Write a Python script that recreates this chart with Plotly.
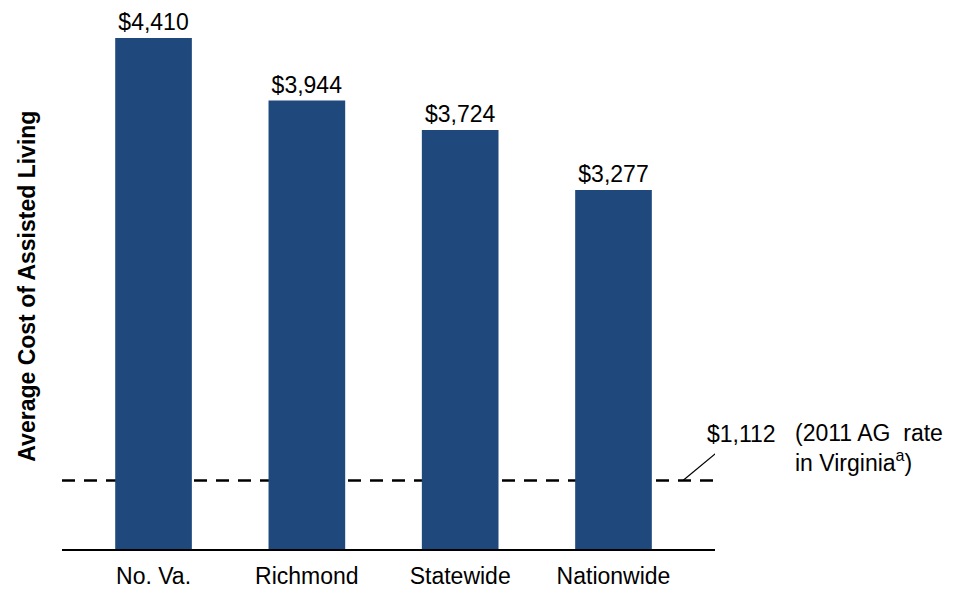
import plotly.graph_objects as go

# ---- data ----
categories = ["No. Va.", "Richmond", "Statewide", "Nationwide"]
avg_cost = [4410, 3944, 3724, 3277]
ag_rate = 1112
ag_label_value = "$1,112"
ag_label_text = "(2011 AG  rate<br>in Virginia<sup>a</sup>)"
y_title = "Average Cost of Assisted Living"

FONT = "Liberation Sans, Arial, sans-serif"
BAR_COLOR = "#1F497D"

fig = go.Figure()
fig.add_trace(go.Bar(
    x=list(range(len(categories))),
    y=avg_cost,
    width=0.5,
    marker=dict(color=BAR_COLOR, line=dict(width=0)),
    text=[f"${v:,}" for v in avg_cost],
    textposition="outside",
    textfont=dict(family=FONT, size=23, color="black"),
    cliponaxis=False,
    hoverinfo="skip",
))

# dashed AG-rate reference line
fig.add_shape(type="line", xref="paper", x0=0, x1=1, yref="y", y0=ag_rate, y1=ag_rate,
              line=dict(color="black", width=2.5, dash="13px,9px"), layer="below")

# leader line from the dashed line up to the label (pixel-sized, anchored on the line)
fig.add_shape(type="line", xref="x", yref="y", xsizemode="pixel", ysizemode="pixel",
              xanchor=3.453, yanchor=ag_rate, x0=0, x1=35, y0=0, y1=29,
              line=dict(color="black", width=1.2))

fig.add_annotation(x=0.9847, y=ag_rate, xref="paper", yref="y", text=ag_label_value,
                   showarrow=False, xanchor="left", yanchor="middle", yshift=47,
                   font=dict(family=FONT, size=23, color="black"))
fig.add_annotation(x=1.1194, y=ag_rate, xref="paper", yref="y", text=ag_label_text,
                   showarrow=False, xanchor="left", yanchor="middle", yshift=33,
                   align="left",
                   font=dict(family=FONT, size=23, color="black"))

# y-axis title
fig.add_annotation(x=-0.055, y=0.478, xref="paper", yref="paper", text=f"<b>{y_title}</b>",
                   textangle=-90, showarrow=False, xanchor="center", yanchor="middle",
                   font=dict(family=FONT, size=23, color="black"))

fig.update_layout(
    width=976, height=589,
    margin=dict(l=62, r=261, t=0, b=40),
    paper_bgcolor="white", plot_bgcolor="white",
    showlegend=False,
    bargap=0.5,
    font=dict(family=FONT, size=23, color="black"),
    xaxis=dict(
        range=[-0.597, 3.662],
        tickmode="array",
        tickvals=list(range(len(categories))),
        ticktext=categories,
        showline=True, linecolor="black", linewidth=1.5,
        ticks="", showgrid=False, zeroline=False,
        ticklabelstandoff=6,
        tickfont=dict(family=FONT, size=23, color="black"),
        fixedrange=True,
    ),
    yaxis=dict(
        range=[601.5, 4694],
        showticklabels=False, ticks="", showgrid=False, zeroline=False,
        showline=False, fixedrange=True,
    ),
)

fig.write_html(
    "out.html",
    config={"displayModeBar": False},
    post_script="document.body.style.margin='0';document.body.style.overflow='hidden';",
)
